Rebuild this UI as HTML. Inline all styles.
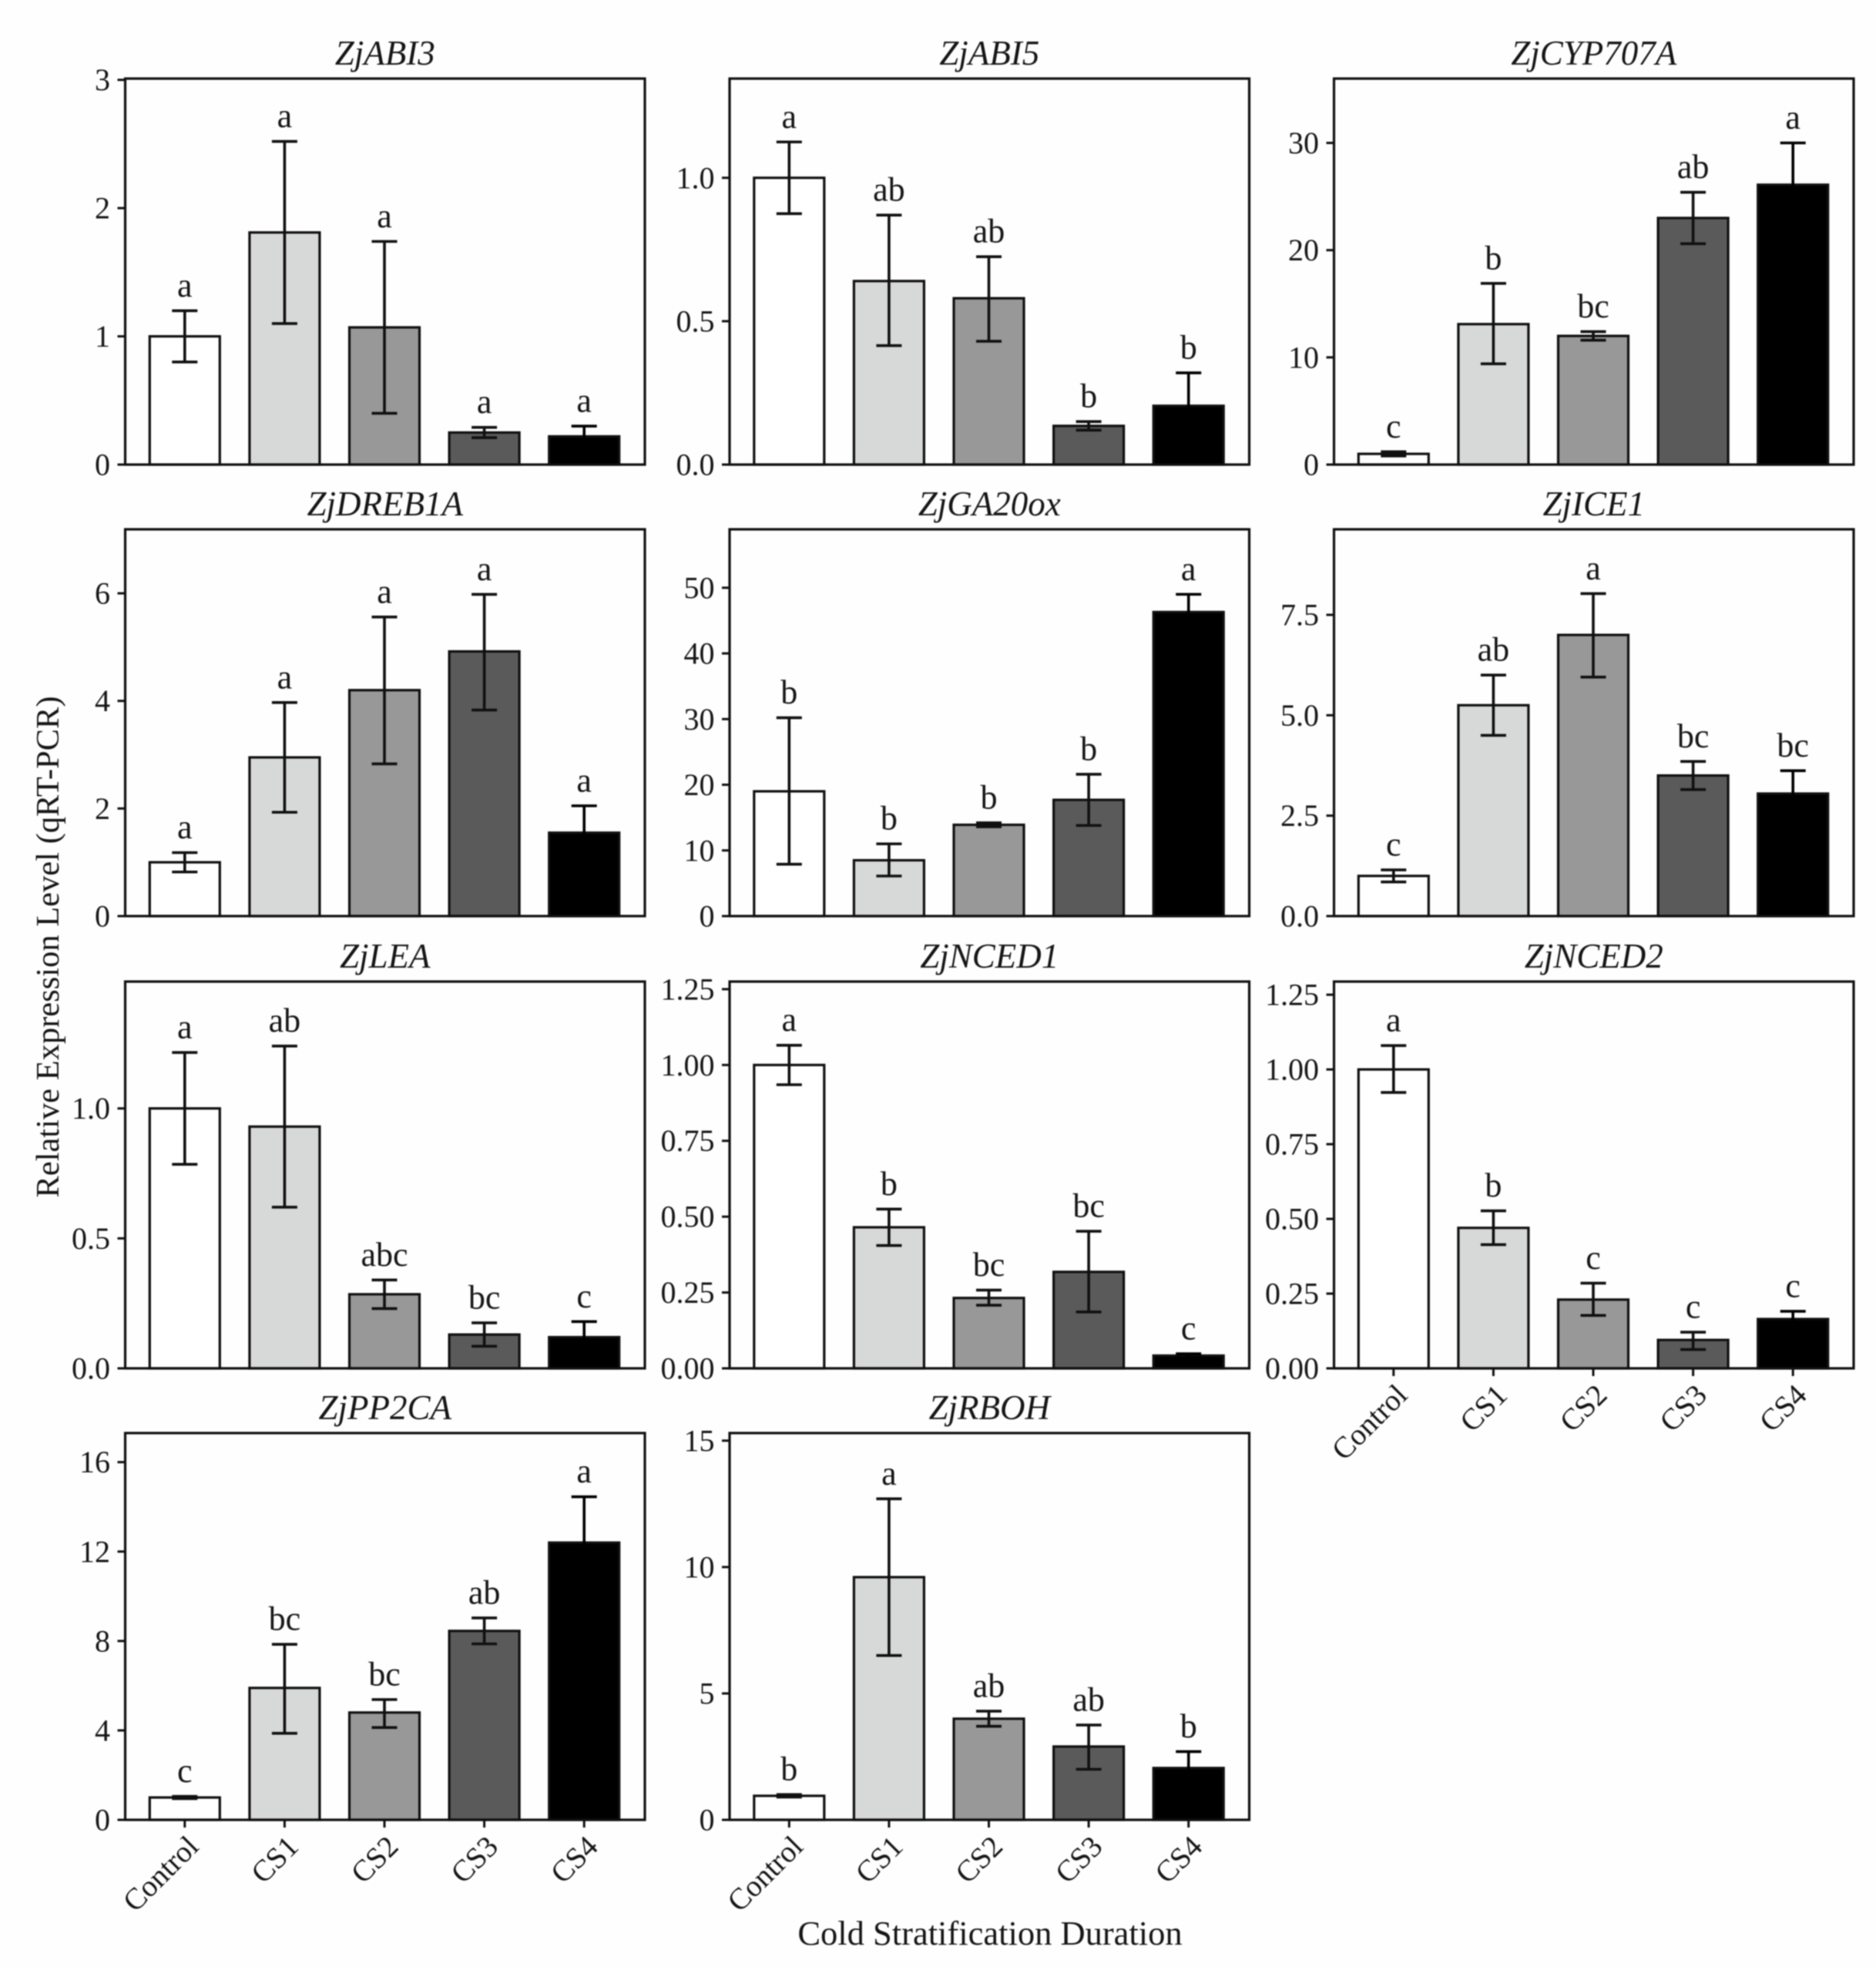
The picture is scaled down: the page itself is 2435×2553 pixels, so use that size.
<!DOCTYPE html>
<html lang="en">
<head>
<meta charset="utf-8">
<title>Relative expression of cold stratification genes</title>
<style>
  html, body { margin: 0; padding: 0; background: #fefefe; }
  svg { display: block; filter: blur(0.7px); }
  text { font-family: "Liberation Serif", "Times New Roman", serif; fill: #151515; }
</style>
</head>
<body>
<svg id="figure" xmlns="http://www.w3.org/2000/svg" width="2435" height="2553" viewBox="0 0 2435 2553"></svg>
<script>
// ---- data ----
const categories = ["Control", "CS1", "CS2", "CS3", "CS4"];

const abi3Mean = [1.0, 1.81, 1.07, 0.25, 0.22];
const abi3Upper = [1.2, 2.52, 1.74, 0.29, 0.30];
const abi3Lower = [0.8, 1.1, 0.4, 0.21, 0.14];
const abi3Letters = ["a", "a", "a", "a", "a"];
const abi3Ticks = ["0", "1", "2", "3"];

const abi5Mean = [1.0, 0.64, 0.58, 0.135, 0.205];
const abi5Upper = [1.125, 0.87, 0.725, 0.15, 0.32];
const abi5Lower = [0.875, 0.415, 0.43, 0.12, 0.09];
const abi5Letters = ["a", "ab", "ab", "b", "b"];
const abi5Ticks = ["0.0", "0.5", "1.0"];

const cypMean = [1.0, 13.1, 12.0, 23.0, 26.1];
const cypUpper = [1.2, 16.9, 12.4, 25.4, 30];
const cypLower = [0.8, 9.4, 11.6, 20.6, 22];
const cypLetters = ["c", "b", "bc", "ab", "a"];
const cypTicks = ["0", "10", "20", "30"];

const drebMean = [1.0, 2.95, 4.2, 4.92, 1.55];
const drebUpper = [1.18, 3.97, 5.56, 5.98, 2.05];
const drebLower = [0.82, 1.93, 2.83, 3.83, 1.05];
const drebLetters = ["a", "a", "a", "a", "a"];
const drebTicks = ["0", "2", "4", "6"];

const gaMean = [19, 8.5, 13.9, 17.7, 46.3];
const gaUpper = [30.2, 11, 14.2, 21.6, 49];
const gaLower = [7.9, 6.1, 13.6, 13.8, 43.6];
const gaLetters = ["b", "b", "b", "b", "a"];
const gaTicks = ["0", "10", "20", "30", "40", "50"];

const iceMean = [1.0, 5.25, 7.0, 3.5, 3.05];
const iceUpper = [1.15, 6.0, 8.03, 3.85, 3.62];
const iceLower = [0.85, 4.5, 5.95, 3.15, 2.48];
const iceLetters = ["c", "ab", "a", "bc", "bc"];
const iceTicks = ["0.0", "2.5", "5.0", "7.5"];

const leaMean = [1.0, 0.93, 0.285, 0.13, 0.12];
const leaUpper = [1.215, 1.24, 0.34, 0.175, 0.18];
const leaLower = [0.785, 0.62, 0.23, 0.085, 0.06];
const leaLetters = ["a", "ab", "abc", "bc", "c"];
const leaTicks = ["0.0", "0.5", "1.0"];

const nced1Mean = [1.0, 0.465, 0.232, 0.318, 0.042];
const nced1Upper = [1.065, 0.525, 0.258, 0.452, 0.048];
const nced1Lower = [0.935, 0.405, 0.208, 0.186, 0.036];
const nced1Letters = ["a", "b", "bc", "bc", "c"];
const nced1Ticks = ["0.00", "0.25", "0.50", "0.75", "1.00", "1.25"];

const nced2Mean = [1.0, 0.47, 0.23, 0.095, 0.165];
const nced2Upper = [1.08, 0.527, 0.285, 0.121, 0.191];
const nced2Lower = [0.923, 0.414, 0.177, 0.063, 0.14];
const nced2Letters = ["a", "b", "c", "c", "c"];
const nced2Ticks = ["0.00", "0.25", "0.50", "0.75", "1.00", "1.25"];

const ppMean = [1.0, 5.9, 4.8, 8.45, 12.4];
const ppUpper = [1.05, 7.85, 5.38, 9.03, 14.45];
const ppLower = [0.95, 3.87, 4.13, 7.87, 10.35];
const ppLetters = ["c", "bc", "bc", "ab", "a"];
const ppTicks = ["0", "4", "8", "12", "16"];

const rbohMean = [0.95, 9.6, 4.0, 2.9, 2.05];
const rbohUpper = [1.0, 12.7, 4.3, 3.75, 2.7];
const rbohLower = [0.9, 6.5, 3.7, 2.0, 1.4];
const rbohLetters = ["b", "a", "ab", "ab", "b"];
const rbohTicks = ["0", "5", "10", "15"];

const panels = [
  { gene: "ZjABI3", col: 0, row: 0, yMax: 3.01, mean: abi3Mean, up: abi3Upper, lo: abi3Lower, letters: abi3Letters, ticks: abi3Ticks, xLabels: false },
  { gene: "ZjABI5", col: 1, row: 0, yMax: 1.346, mean: abi5Mean, up: abi5Upper, lo: abi5Lower, letters: abi5Letters, ticks: abi5Ticks, xLabels: false },
  { gene: "ZjCYP707A", col: 2, row: 0, yMax: 36, mean: cypMean, up: cypUpper, lo: cypLower, letters: cypLetters, ticks: cypTicks, xLabels: false },
  { gene: "ZjDREB1A", col: 0, row: 1, yMax: 7.19, mean: drebMean, up: drebUpper, lo: drebLower, letters: drebLetters, ticks: drebTicks, xLabels: false },
  { gene: "ZjGA20ox", col: 1, row: 1, yMax: 58.9, mean: gaMean, up: gaUpper, lo: gaLower, letters: gaLetters, ticks: gaTicks, xLabels: false },
  { gene: "ZjICE1", col: 2, row: 1, yMax: 9.63, mean: iceMean, up: iceUpper, lo: iceLower, letters: iceLetters, ticks: iceTicks, xLabels: false },
  { gene: "ZjLEA", col: 0, row: 2, yMax: 1.488, mean: leaMean, up: leaUpper, lo: leaLower, letters: leaLetters, ticks: leaTicks, xLabels: false },
  { gene: "ZjNCED1", col: 1, row: 2, yMax: 1.275, mean: nced1Mean, up: nced1Upper, lo: nced1Lower, letters: nced1Letters, ticks: nced1Ticks, xLabels: false },
  { gene: "ZjNCED2", col: 2, row: 2, yMax: 1.294, mean: nced2Mean, up: nced2Upper, lo: nced2Lower, letters: nced2Letters, ticks: nced2Ticks, xLabels: true },
  { gene: "ZjPP2CA", col: 0, row: 3, yMax: 17.3, mean: ppMean, up: ppUpper, lo: ppLower, letters: ppLetters, ticks: ppTicks, xLabels: true },
  { gene: "ZjRBOH", col: 1, row: 3, yMax: 15.3, mean: rbohMean, up: rbohUpper, lo: rbohLower, letters: rbohLetters, ticks: rbohTicks, xLabels: true }
];

// ---- layout ----
const colLeft = [162.5, 947, 1731.5];
const rowTop = [102, 687, 1274, 1860];
const rowBottom = [603, 1189, 1776, 2362];
const plotWidth = 674.5;
const slotWidth = 129.6;
const firstSlot = 77.3;
const barWidth = 91;
const capWidth = 33;
const fills = ["#ffffff", "#d7d8d8", "#989898", "#5a5a5a", "#000000"];
const ink = "#101010";

const svg = document.getElementById("figure");
const NS = "http://www.w3.org/2000/svg";

function mk(tag, attrs, parent, txt) {
  const el = document.createElementNS(NS, tag);
  for (const k in attrs) el.setAttribute(k, attrs[k]);
  if (txt !== undefined) el.textContent = txt;
  parent.appendChild(el);
  return el;
}

function slug(s) { return s.toLowerCase().replace(/[^a-z0-9]+/g, "-"); }

panels.forEach(function (p) {
  const left = colLeft[p.col];
  const top = rowTop[p.row];
  const bottom = rowBottom[p.row];
  const xScale = function (i) { return left + firstSlot + i * slotWidth; };
  const yScale = function (v) { return bottom - (v / p.yMax) * (bottom - top); };
  const id = slug(p.gene);

  const g = mk("g", {}, svg);
  
  

  const title = mk("text", { x: left + plotWidth / 2, y: top - 18, "text-anchor": "middle", "font-size": 45, "font-style": "italic" }, g, p.gene);
  
  

  p.mean.forEach(function (v, i) {
    const cx = xScale(i);
    const errInk = i === 4 ? "#000000" : ink;

    const bar = mk("rect", { x: cx - barWidth / 2, y: yScale(v), width: barWidth, height: bottom - yScale(v), fill: fills[i], stroke: ink, "stroke-width": 3.2 }, g);
    
    

    const stem = mk("line", { x1: cx, x2: cx, y1: yScale(p.up[i]), y2: yScale(p.lo[i]), stroke: errInk, "stroke-width": 3.6 }, g);
    
    

    const capTop = mk("line", { x1: cx - capWidth / 2, x2: cx + capWidth / 2, y1: yScale(p.up[i]), y2: yScale(p.up[i]), stroke: errInk, "stroke-width": 3.6 }, g);
    
    

    const capLow = mk("line", { x1: cx - capWidth / 2, x2: cx + capWidth / 2, y1: yScale(p.lo[i]), y2: yScale(p.lo[i]), stroke: errInk, "stroke-width": 3.6 }, g);
    
    

    const letter = mk("text", { x: cx, y: yScale(p.up[i]) - 18.5, "text-anchor": "middle", "font-size": 44 }, g, p.letters[i]);
    
    
  });

  const frame = mk("rect", { x: left, y: top, width: plotWidth, height: bottom - top, fill: "none", stroke: ink, "stroke-width": 3.2 }, g);
  
  

  p.ticks.forEach(function (label) {
    const y = yScale(parseFloat(label));
    const tick = mk("line", { x1: left - 10, x2: left, y1: y, y2: y, stroke: ink, "stroke-width": 3 }, g);
    
    

    const tl = mk("text", { x: left - 19.5, y: y + 13.5, "text-anchor": "end", "font-size": 40 }, g, label);
    
    
  });

  if (p.xLabels) {
    categories.forEach(function (c, i) {
      const cx = xScale(i);
      const tick = mk("line", { x1: cx, x2: cx, y1: bottom, y2: bottom + 10, stroke: ink, "stroke-width": 3 }, g);
      
      

      const ax = cx + 20;
      const ay = bottom + 37;
      const xl = mk("text", { x: ax, y: ay, "text-anchor": "end", "font-size": 39, transform: "rotate(-45 " + ax + " " + ay + ")" }, g, c);
      
      
    });
  }
});

const yTitle = mk("text", { x: 76, y: 1229, "text-anchor": "middle", "font-size": 42.5, transform: "rotate(-90 76 1229)" }, svg, "Relative Expression Level (qRT-PCR)");



const xTitle = mk("text", { x: 1285, y: 2524, "text-anchor": "middle", "font-size": 44.5 }, svg, "Cold Stratification Duration");


</script>
</body>
</html>
